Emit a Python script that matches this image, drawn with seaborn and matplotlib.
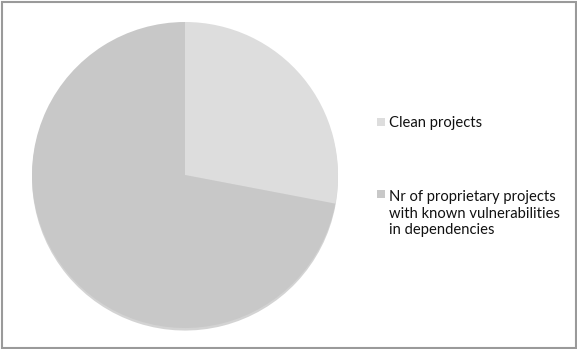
import matplotlib
matplotlib.use("Agg")
import matplotlib.pyplot as plt
from matplotlib.patches import Rectangle
import seaborn as sns

# Share of projects (percent)
categories = [
    "Clean projects",
    "Nr of proprietary projects\nwith known vulnerabilities\nin dependencies",
]
values = [28, 72]
colors = ["#dddddd", "#c8c8c8"]

sns.set_theme(style="white")
plt.rcParams["font.family"] = ["Lato", "DejaVu Sans"]

W, H = 577, 349
fig = plt.figure(figsize=(W / 100, H / 100), dpi=100)
fig.patch.set_facecolor("white")

# Pie axes: centre (185, 175) px, radius 153 px
cx, cy, r = 185, 175, 153
ax = fig.add_axes([(cx - r) / W, (H - cy - r) / H, 2 * r / W, 2 * r / H])
wedges, _ = ax.pie(
    values,
    colors=colors,
    startangle=90,
    counterclock=False,
    radius=1.0,
    wedgeprops=dict(linewidth=0),
    shadow=dict(ox=0.0, oy=-0.012, shade=0.35, alpha=0.35),
)
ax.set_xlim(-1.0, 1.0)
ax.set_ylim(-1.0, 1.0)
ax.set_aspect("equal")
ax.axis("off")
ax.set_clip_on(False)
for p in ax.patches:
    p.set_clip_on(False)

# Legend drawn in pixel positions
def fx(x):
    return x / W

def fy(y):
    return 1 - y / H

fontsize = 10.6
linespacing = 1.2
line_px = linespacing * fontsize * 100 / 72

# baseline of the first line of each entry, in px from the top
legend_baselines = [127, 198.5]
for label, color, base in zip(categories, colors, legend_baselines):
    n_extra = label.count("\n")
    fig.patches.append(
        Rectangle((fx(377), fy(base - 1)), 8 / W, 8 / H,
                  transform=fig.transFigure, facecolor=color,
                  edgecolor="none", figure=fig)
    )
    # va="baseline" anchors the last line, so shift by the extra lines
    fig.text(fx(389), fy(base + n_extra * line_px), label,
             ha="left", va="baseline",
             fontsize=fontsize, color="#111111", linespacing=linespacing)

# Outer frame
fig.patches.append(
    Rectangle((fx(2), fy(347.5)), (575.5 - 2) / W, (347.5 - 2) / H,
              transform=fig.transFigure, facecolor="none",
              edgecolor="#9a9a9a", linewidth=1.5, figure=fig)
)

fig.savefig("out.png", dpi=100)
